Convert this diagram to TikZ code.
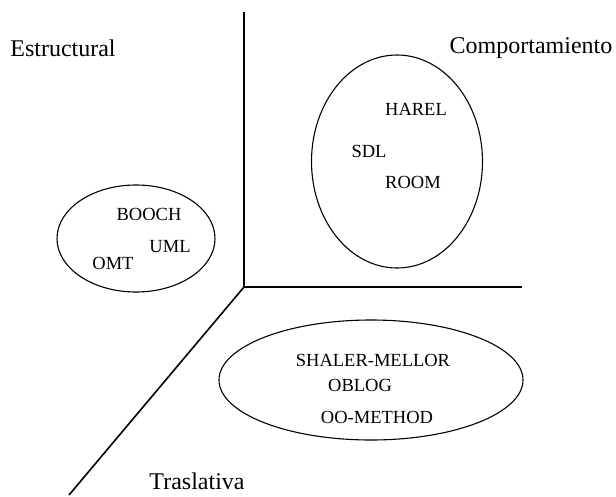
\documentclass[tikz,border=0pt]{standalone}
\usepackage{fontspec}
\setmainfont{Liberation Serif}
\usetikzlibrary{shapes.geometric}

\tikzset{
  axis/.style={line width=1.6pt},
  group/.style={draw, ellipse, line width=1.1pt, inner sep=0pt},
  viewlabel/.style={inner sep=0pt, font=\fontsize{24}{28}\selectfont},
  method/.style={inner sep=0pt, font=\fontsize{18.5}{22}\selectfont}
}

\begin{document}
\begin{tikzpicture}[x=1pt, y=-1pt]
  \useasboundingbox (0,0) rectangle (616,496);

  % three axes meeting at the origin
  \coordinate (o)  at (244,287);
  \coordinate (up) at (244,12);
  \coordinate (rt) at (522,287);
  \coordinate (dl) at (69,495);
  \draw[axis] (o) -- (up);
  \draw[axis] (o) -- (rt);
  \draw[axis] (o) -- (dl);

  % view names
  \node[viewlabel] (estr) at (63,48)  {Estructural};
  \node[viewlabel] (comp) at (531,48) {Comportamiento};
  \node[viewlabel] (tras) at (197,481) {Traslativa};

  % method groups
  \node[group, minimum width=158pt, minimum height=107pt] (gest) at (136,238.5) {};
  \node[group, minimum width=171pt, minimum height=213pt] (gcomp) at (397,161.5) {};
  \node[group, minimum width=304pt, minimum height=120pt] (gtras) at (371,380) {};

  % structural methods
  \node[method] (booch) at (149,214) {BOOCH};
  \node[method] (uml)   at (170,247) {UML};
  \node[method] (omt)   at (113,263) {OMT};

  % behavioural methods
  \node[method] (harel) at (416,109) {HAREL};
  \node[method] (sdl)   at (369,151) {SDL};
  \node[method] (room)  at (413,182) {ROOM};

  % translational methods
  \node[method] (shaler) at (373,360) {SHALER-MELLOR};
  \node[method] (oblog)  at (360,385) {OBLOG};
  \node[method] (oom)    at (377,417) {OO-METHOD};
\end{tikzpicture}
\end{document}
